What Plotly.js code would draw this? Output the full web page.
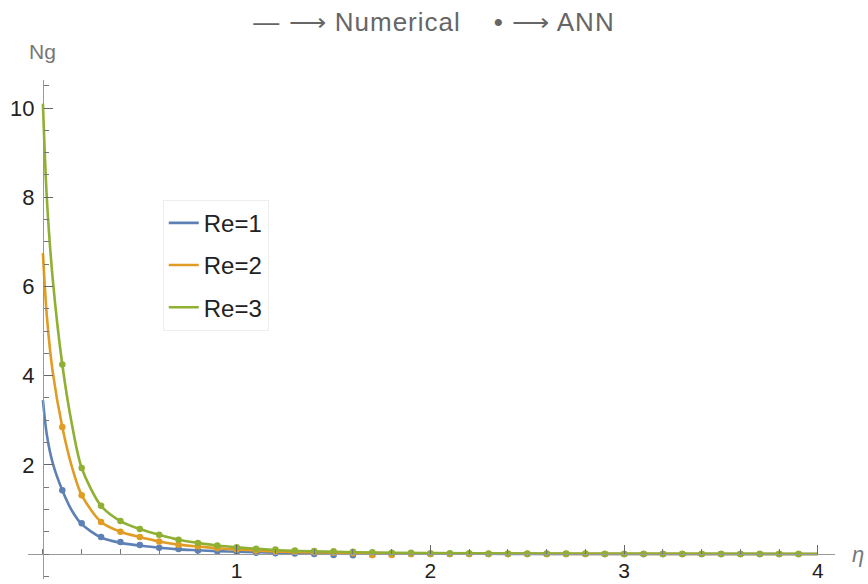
<!DOCTYPE html>
<html>
<head>
<meta charset="utf-8">
<script src="https://cdn.plot.ly/plotly-3.0.1.min.js"></script>
<style>html,body{margin:0;padding:0;background:#fff;}#chart{width:868px;height:584px;}
.gtitle{letter-spacing:1px;}</style>
</head>
<body>
<div id="chart"></div>
<script>
// Numerical solution (lines)
const etaLine = [0, 0.02, 0.05, 0.1, 0.15, 0.2, 0.3, 0.4, 0.5, 0.6, 0.7, 0.8, 0.9, 1.0, 1.2, 1.4, 1.6, 2.0, 2.5, 3.0, 4.0];
const numRe1 = [3.45, 2.68, 2.05, 1.43, 0.97, 0.67, 0.37, 0.25, 0.19, 0.14, 0.105, 0.085, 0.065, 0.05, 0.03, 0.02, 0.013, 0.007, 0.003, 0.0015, 0.0005];
const numRe2 = [6.75, 5.35, 4.1, 2.85, 1.95, 1.32, 0.72, 0.5, 0.38, 0.28, 0.21, 0.17, 0.13, 0.1, 0.06, 0.04, 0.027, 0.013, 0.007, 0.003, 0.001];
const numRe3 = [10.1, 8.0, 6.2, 4.25, 2.9, 1.93, 1.08, 0.74, 0.56, 0.43, 0.32, 0.25, 0.19, 0.15, 0.09, 0.06, 0.04, 0.02, 0.01, 0.005, 0.002];

// ANN predictions (points)
const etaANN = [0.1,0.2,0.3,0.4,0.5,0.6,0.7,0.8,0.9,1.0,1.1,1.2,1.3,1.4,1.5,1.6,1.7,1.8,1.9,2.0,2.1,2.2,2.3,2.4,2.5,2.6,2.7,2.8,2.9,3.0,3.1,3.2,3.3,3.4,3.5,3.6,3.7,3.8,3.9];
const annRe1 = [1.43,0.69,0.38,0.27,0.20,0.14,0.11,0.08,0.06,0.05,0.03,0.02,0.01,0.0,-0.02,-0.03,-0.02,-0.01,0.0,0.0,0.0,0.0,0.0,0.0,0.0,0.0,0.0,0.0,0.0,0.0,0.0,0.0,0.0,0.0,0.0,0.0,0.0,0.0,0.0];
const annRe2 = [2.85,1.32,0.72,0.50,0.38,0.28,0.21,0.17,0.13,0.10,0.08,0.07,0.05,0.04,0.03,0.02,-0.02,-0.02,0.0,0.0,0.0,0.0,0.0,0.0,0.0,0.0,0.0,0.0,0.0,0.0,0.0,0.0,0.0,0.0,0.0,0.0,0.0,0.0,0.0];
const annRe3 = [4.25,1.93,1.08,0.74,0.56,0.43,0.32,0.25,0.19,0.15,0.12,0.10,0.08,0.07,0.06,0.05,0.04,0.03,0.03,0.02,0.02,0.02,0.01,0.01,0.01,0.01,0.01,0.01,0.0,0.0,0.0,0.0,0.0,0.0,0.0,0.0,0.0,0.0,0.0];

const seriesNames = ['Re=1', 'Re=2', 'Re=3'];
const colors = ['#5E81B5', '#E19C24', '#8FB032'];
const numData = [numRe1, numRe2, numRe3];
const annData = [annRe1, annRe2, annRe3];

const traces = [];
for (let i = 0; i < 3; i++) {
  traces.push({
    x: etaLine, y: numData[i], type: 'scatter', mode: 'lines',
    name: seriesNames[i], legendgroup: 'g' + i,
    line: {color: colors[i], width: 2.6, shape: 'spline', smoothing: 0.8},
    cliponaxis: false
  });
}
for (let i = 0; i < 3; i++) {
  traces.push({
    x: etaANN, y: annData[i], type: 'scatter', mode: 'markers',
    name: seriesNames[i] + ' ANN', showlegend: false,
    marker: {color: colors[i], size: 6.5}
  });
}

const axisColor = '#999999';
const layout = {
  width: 868, height: 584,
  margin: {l: 28, r: 33, t: 80, b: 5},
  paper_bgcolor: '#fff', plot_bgcolor: '#fff',
  font: {family: 'Liberation Sans, Arial, sans-serif', color: '#222'},
  title: {text: '— ⟶ Numerical    • ⟶ ANN', x: 0.5, xanchor: 'center', y: 0.962, yanchor: 'middle',
          font: {size: 26, color: '#666', family: 'Liberation Sans, Arial, sans-serif'}},
  showlegend: true,
  legend: {x: 0.167, y: 0.76, xanchor: 'left', yanchor: 'top',
           bgcolor: '#fff', bordercolor: '#eeeeee', borderwidth: 1,
           font: {size: 24, color: '#222'}, traceorder: 'grouped', tracegroupgap: 8,
           itemwidth: 30},
  xaxis: {
    range: [-0.077, 4.088], anchor: 'free', position: 0.05,
    showgrid: false, zeroline: false, showline: true, linecolor: axisColor, linewidth: 1,
    tickmode: 'array', tickvals: [1, 2, 3, 4], ticks: 'inside', ticklen: 9, tickcolor: '#666', tickwidth: 1,
    tickfont: {size: 21, color: '#222'}, ticklabelstandoff: -2,
    minor: {tickmode: 'linear', tick0: 0, dtick: 0.2, ticks: 'inside', ticklen: 5, tickcolor: '#777', tickwidth: 1, showgrid: false}
  },
  yaxis: {
    range: [-0.56, 10.63], anchor: 'free', position: 0.0185,
    showgrid: false, zeroline: false, showline: true, linecolor: axisColor, linewidth: 1,
    tickmode: 'array', tickvals: [2, 4, 6, 8, 10], ticks: 'inside', ticklen: 9, tickcolor: '#666', tickwidth: 1,
    tickfont: {size: 22, color: '#222'}, ticklabelstandoff: 4,
    minor: {tickmode: 'linear', tick0: 0, dtick: 0.5, ticks: 'inside', ticklen: 5, tickcolor: '#777', tickwidth: 1, showgrid: false}
  },
  annotations: [
    {text: 'Ng', xref: 'x', yref: 'paper', x: 0, y: 1.057, xanchor: 'center', yanchor: 'middle', showarrow: false,
     font: {size: 21, color: '#777'}},
    {text: '<i>η</i>', xref: 'paper', yref: 'paper', x: 1.0285, y: 0.05, xanchor: 'center', yanchor: 'middle', showarrow: false,
     font: {size: 22, color: '#777'}}
  ]
};

Plotly.newPlot('chart', traces, layout, {displayModeBar: false, staticPlot: true});
</script>
</body>
</html>
